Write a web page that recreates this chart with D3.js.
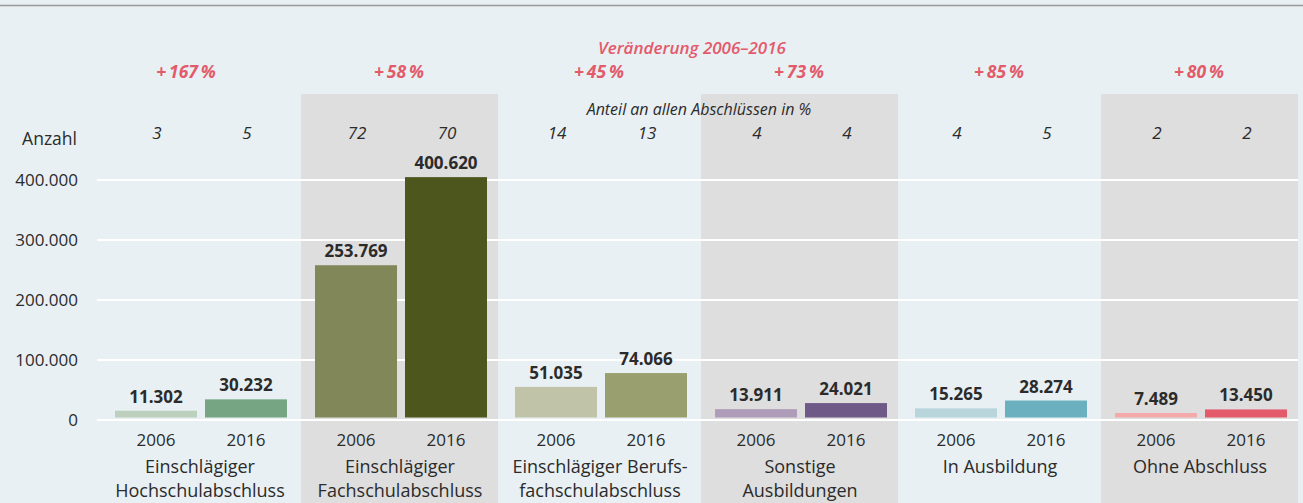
<!DOCTYPE html>
<html>
<head>
<meta charset="utf-8">
<script src="https://cdn.jsdelivr.net/npm/d3@7"></script>
<style>
  body { margin: 0; background: #e8f0f3; }
  svg { display: block; font-family: "Source Sans Pro", "Open Sans", sans-serif; }
</style>
</head>
<body>
<div id="chart"></div>
<script>
// data
var categories = ["Einschlägiger Hochschulabschluss", "Einschlägiger Fachschulabschluss",
  "Einschlägiger Berufsfachschulabschluss", "Sonstige Ausbildungen", "In Ausbildung", "Ohne Abschluss"];
var categoryLines = [["Einschlägiger", "Hochschulabschluss"], ["Einschlägiger", "Fachschulabschluss"],
  ["Einschlägiger Berufs-", "fachschulabschluss"], ["Sonstige", "Ausbildungen"], ["In Ausbildung"], ["Ohne Abschluss"]];
var years = ["2006", "2016"];
var values2006 = [11302, 253769, 51035, 13911, 15265, 7489];
var values2016 = [30232, 400620, 74066, 24021, 28274, 13450];
var share2006 = [3, 72, 14, 4, 4, 2];
var share2016 = [5, 70, 13, 4, 5, 2];
var change = [167, 58, 45, 73, 85, 80];
var yTicks = [0, 100000, 200000, 300000, 400000];
var colors2006 = ["#bcd0bd", "#818759", "#c0c3a8", "#af9cb8", "#b8d5dc", "#f4a9ab"];
var colors2016 = ["#76a583", "#4c561d", "#9a9f70", "#6e5987", "#6ab0bf", "#e35a6b"];

var width = 1303, height = 503;
var red = "#e35a6b", ink = "#2b2b2b";

var svg = d3.select("#chart").append("svg")
    .attr("width", width)
    .attr("height", height);

svg.append("rect").attr("width", width).attr("height", height).attr("fill", "#e8f0f3");

// thin rule at the very top
svg.append("line")
    .attr("x1", 0).attr("x2", width)
    .attr("y1", 5.5).attr("y2", 5.5)
    .attr("stroke", "#999").attr("stroke-width", 1.5);

// scales
var x0 = d3.scaleBand().domain(categories).range([100, 1300]);
var x1 = d3.scaleBand().domain(years).range([15, 187]).paddingInner(8 / 90);
var y = d3.scaleLinear().domain([0, 400000]).range([420, 180]);

var fmt = d3.formatLocale({decimal: ",", thousands: ".", grouping: [3], currency: ["", "€"]}).format(",");

// rows of data per group
var rows = categories.map(function(c, i) {
  return {
    cat: c, i: i, lines: categoryLines[i], change: change[i],
    bars: [
      {year: "2006", value: values2006[i], share: share2006[i], color: colors2006[i]},
      {year: "2016", value: values2016[i], share: share2016[i], color: colors2016[i]}
    ]
  };
});

// grey panels behind every second group
svg.selectAll("rect.panel")
    .data(rows.filter(function(d) { return d.i % 2 === 1; }))
  .enter().append("rect")
    .attr("class", "panel")
    .attr("x", function(d) { return x0(d.cat) + 1; })
    .attr("y", 94)
    .attr("width", x0.bandwidth() - 3)
    .attr("height", height - 94)
    .attr("fill", "#dedede");

// gridlines
svg.selectAll("line.grid")
    .data(yTicks)
  .enter().append("line")
    .attr("class", "grid")
    .attr("x1", 97).attr("x2", 1298)
    .attr("y1", function(d) { return y(d); })
    .attr("y2", function(d) { return y(d); })
    .attr("stroke", "#fff").attr("stroke-width", 2);

// y axis labels
svg.selectAll("text.ytick")
    .data(yTicks)
  .enter().append("text")
    .attr("class", "ytick")
    .attr("x", 78)
    .attr("y", function(d) { return y(d); })
    .attr("dy", "0.35em")
    .attr("text-anchor", "end")
    .attr("font-size", 17)
    .attr("fill", ink)
    .text(function(d) { return fmt(d); });

svg.append("text")
    .attr("x", 77).attr("y", 145)
    .attr("text-anchor", "end")
    .attr("font-size", 17.5)
    .attr("fill", ink)
    .text("Anzahl");

// headings
svg.append("text")
    .attr("x", 692).attr("y", 54)
    .attr("text-anchor", "middle")
    .attr("font-size", 17)
    .attr("font-style", "italic")
    .attr("font-weight", 600)
    .attr("fill", red)
    .text("Veränderung 2006–2016");

svg.append("text")
    .attr("x", 699).attr("y", 115)
    .attr("text-anchor", "middle")
    .attr("font-size", 16)
    .attr("font-style", "italic")
    .attr("fill", ink)
    .text("Anteil an allen Abschlüssen in %");

var groups = svg.selectAll("g.group")
    .data(rows)
  .enter().append("g")
    .attr("class", "group")
    .attr("transform", function(d) { return "translate(" + x0(d.cat) + ",0)"; });

// change in percent
groups.append("text")
    .attr("x", function(d) { return d.i === 0 ? 86 : 99; })
    .attr("y", 78)
    .attr("text-anchor", "middle")
    .attr("font-size", 17.5)
    .attr("font-style", "italic")
    .attr("font-weight", 700)
    .attr("fill", red)
    .text(function(d) { return "+\u2009" + d.change + "\u2009%"; });

// category labels
groups.each(function(d) {
  var g = d3.select(this);
  d.lines.forEach(function(l, k) {
    g.append("text")
        .attr("x", 100)
        .attr("y", 473 + k * 23.5)
        .attr("text-anchor", "middle")
        .attr("font-size", 18)
        .attr("fill", ink)
        .text(l);
  });
});

var bars = groups.selectAll("g.bar")
    .data(function(d) { return d.bars; })
  .enter().append("g")
    .attr("class", "bar");

// bars sit a little above the zero line
bars.append("rect")
    .attr("x", function(d) { return x1(d.year); })
    .attr("width", x1.bandwidth())
    .attr("y", function(d) { return y(d.value) - 2.5; })
    .attr("height", function(d) { return y(0) - y(d.value); })
    .attr("fill", function(d) { return d.color; });

// value labels
bars.append("text")
    .attr("x", function(d) { return x1(d.year) + x1.bandwidth() / 2; })
    .attr("y", function(d) { return y(d.value) - 10.5; })
    .attr("text-anchor", "middle")
    .attr("font-size", 17)
    .attr("font-weight", 700)
    .attr("fill", ink)
    .text(function(d) { return fmt(d.value); });

// share of all
bars.append("text")
    .attr("x", function(d) { return x1(d.year) + x1.bandwidth() / 2 + 1; })
    .attr("y", 139)
    .attr("text-anchor", "middle")
    .attr("font-size", 17)
    .attr("font-style", "italic")
    .attr("fill", ink)
    .text(function(d) { return d.share; });

// year labels
bars.append("text")
    .attr("x", function(d) { return x1(d.year) + x1.bandwidth() / 2; })
    .attr("y", 446)
    .attr("text-anchor", "middle")
    .attr("font-size", 17)
    .attr("fill", ink)
    .text(function(d) { return d.year; });
</script>
</body>
</html>
